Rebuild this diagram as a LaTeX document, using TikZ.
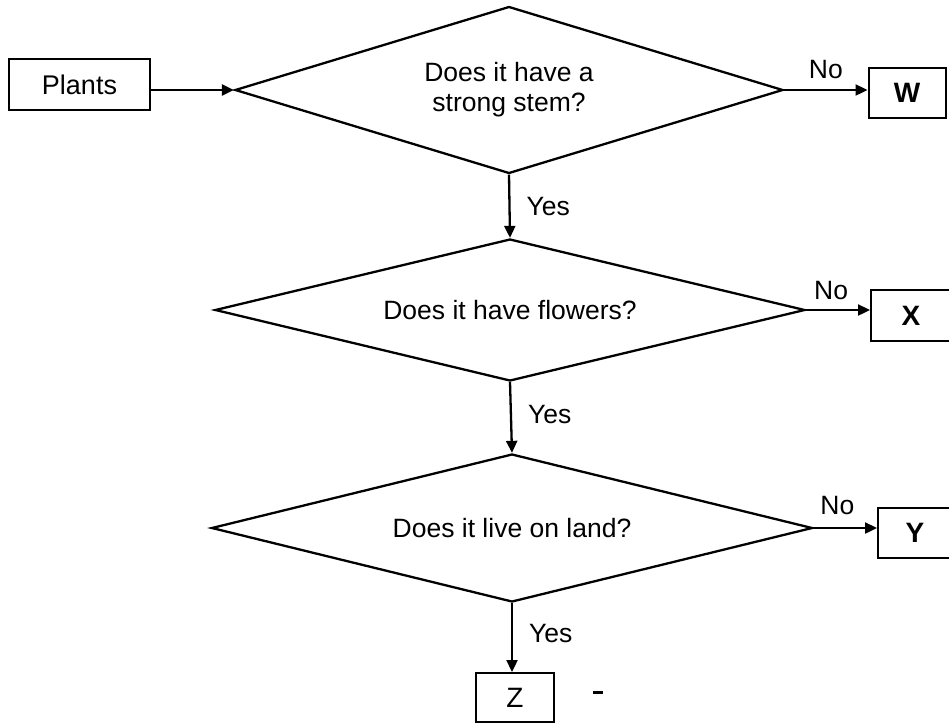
\documentclass[tikz,border=0pt]{standalone}
\usepackage{fontspec}
\setmainfont{Liberation Sans}
\usetikzlibrary{shapes.geometric,arrows.meta}
\begin{document}
\begin{tikzpicture}[x=1pt,y=-1pt,
  line width=2.3pt,
  boxnode/.style={draw, rectangle, inner sep=0pt, line width=2pt},
  letterbox/.style={boxnode, minimum width=80pt, minimum height=50pt, font=\fontsize{28}{30}\selectfont\bfseries},
  decision/.style={draw, diamond, aspect=4, inner sep=0pt, align=center, font=\fontsize{26.5}{30}\selectfont},
  flow/.style={-{Triangle[length=12pt,width=11pt]}},
  lab/.style={font=\fontsize{26.5}{30}\selectfont, inner sep=0pt}
]
\useasboundingbox (0,0) rectangle (949,723);
\fill[white] (0,0) rectangle (949,723);

\node[boxnode, minimum width=141pt, minimum height=51pt, font=\fontsize{27}{30}\selectfont] (plants) at (79.5,84.5) {Plants};

\node[decision, minimum width=548pt, minimum height=167pt] (d1) at (509,90) {Does it have a\\strong stem?};
\node[decision, minimum width=590pt, minimum height=142pt] (d2) at (510,310) {Does it have flowers?};
\node[decision, minimum width=601pt, minimum height=148pt] (d3) at (512,528) {Does it live on land?};

\node[letterbox, minimum width=77pt] (W) at (907,92.5) {W};
\node[letterbox, minimum height=51pt] (X) at (911,315.5) {X};
\node[letterbox, minimum width=74pt] (Y) at (915,533) {Y};
\node[boxnode, minimum width=78pt, minimum height=49pt, font=\fontsize{28}{30}\selectfont] (Z) at (515,697.5) {Z};

\draw[flow] (plants.east |- d1.west) -- (d1.west);

\draw[flow] (d1.east) -- (d1.east -| W.west)
  node[midway, lab, anchor=base, yshift=12pt] {No};
\draw[flow] (d2.east) -- (d2.east -| X.west)
  node[midway, lab, anchor=base, yshift=11pt, xshift=-7pt] {No};
\draw[flow] (d3.east) -- (d3.east -| Y.west)
  node[midway, lab, anchor=base, yshift=14pt, xshift=-8pt] {No};

\draw[flow] (d1.south) -- (d2.north)
  node[midway, lab, anchor=west, xshift=16pt] {Yes};
\draw[flow] (d2.south) -- (d3.north)
  node[midway, lab, anchor=west, xshift=16pt, yshift=3pt] {Yes};
\draw[flow] (d3.south) -- (d3.south |- Z.north)
  node[midway, lab, anchor=west, xshift=16pt, yshift=4pt] {Yes};

\coordinate (dashA) at (593,692);
\coordinate (dashB) at (603,692);
\draw[line width=3pt] (dashA) -- (dashB);
\end{tikzpicture}
\end{document}
